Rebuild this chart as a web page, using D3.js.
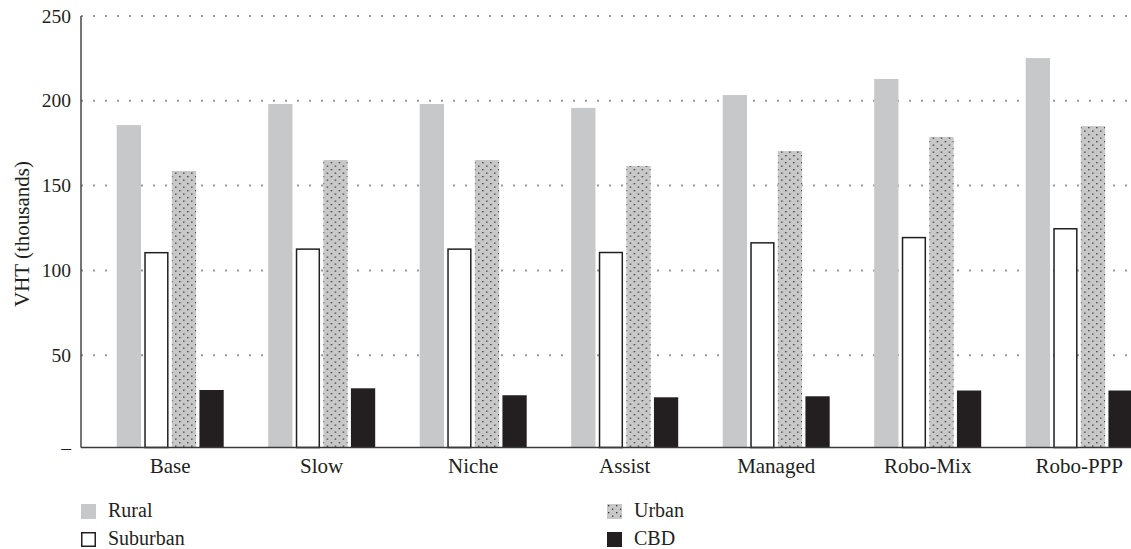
<!DOCTYPE html>
<html>
<head>
<meta charset="utf-8">
<script src="https://cdn.jsdelivr.net/npm/d3@7"></script>
<style>
  body { margin: 0; background: #fff; }
  svg { display: block; font-family: "Liberation Serif", "DejaVu Serif", serif; }
</style>
</head>
<body>
<svg id="chart"></svg>
<script>
const categories = ['Base', 'Slow', 'Niche', 'Assist', 'Managed', 'Robo-Mix', 'Robo-PPP'];
const seriesNames = ['Rural', 'Suburban', 'Urban', 'CBD'];
const rural = [185.7, 198.1, 198.1, 195.8, 203.4, 212.9, 225.2];
const suburban = [110.9, 113.0, 113.0, 111.0, 116.7, 119.8, 125.0];
const urban = [158.6, 165.1, 165.1, 161.6, 170.4, 178.7, 185.1];
const cbd = [29.5, 30.5, 26.4, 25.2, 25.8, 29.2, 29.2];
const yTicks = [250, 200, 150, 100, 50];
const yTickLabels = ['250', '200', '150', '100', '50'];

const width = 1131, height = 549;
const svg = d3.select('#chart').attr('width', width).attr('height', height);

const seriesValues = { Rural: rural, Suburban: suburban, Urban: urban, CBD: cbd };
const rows = categories.map((c, i) => ({
  cat: c,
  values: seriesNames.map(s => ({ key: s, value: seriesValues[s][i] }))
}));

// dotted fill for urban
const defs = svg.append('defs');
const pat = defs.append('pattern')
  .attr('id', 'dots')
  .attr('patternUnits', 'userSpaceOnUse')
  .attr('width', 8).attr('height', 7);
pat.append('rect').attr('width', 8).attr('height', 7).attr('fill', '#c8c8c9');
pat.append('rect').attr('x', 1).attr('y', 1).attr('width', 1.3).attr('height', 1.3).attr('fill', '#2e2e2e');
pat.append('rect').attr('x', 5).attr('y', 4.5).attr('width', 1.3).attr('height', 1.3).attr('fill', '#2e2e2e');

const fills = { Rural: '#c7c8ca', Suburban: '#ffffff', Urban: 'url(#dots)', CBD: '#231f20' };

//SCALES
const axisX = 81;
const y = d3.scaleLinear().domain([-4.4, 250]).range([447.5, 16]);
const x0 = d3.scaleBand().domain(categories).range([94.45, 1154.95]);
const x1 = d3.scaleBand().domain(seriesNames).range([-53.5, 53.5]).paddingInner(0.12);

//GRID
svg.append('g')
  .selectAll('line')
  .data(yTicks)
  .join('line')
  .attr('x1', axisX).attr('x2', width)
  .attr('y1', d => y(d)).attr('y2', d => y(d))
  .attr('stroke', '#9a9a9a')
  .attr('stroke-width', 2)
  .attr('stroke-dasharray', '2 10');

//BARS
const groups = svg.append('g')
  .selectAll('g')
  .data(rows)
  .join('g')
  .attr('transform', d => `translate(${x0(d.cat) + x0.bandwidth() / 2},0)`);

groups.selectAll('rect')
  .data(d => d.values)
  .join('rect')
  .attr('x', d => x1(d.key) + (d.key === 'Suburban' ? 0.75 : 0))
  .attr('width', d => x1.bandwidth() - (d.key === 'Suburban' ? 1.5 : 0))
  .attr('y', d => y(d.value) + (d.key === 'Suburban' ? 0.75 : 0))
  .attr('height', d => y.range()[0] - y(d.value) - (d.key === 'Suburban' ? 0.75 : 0))
  .attr('fill', d => fills[d.key])
  .attr('stroke', d => d.key === 'Suburban' ? '#231f20' : 'none')
  .attr('stroke-width', 1.5);

//AXES
svg.append('line')
  .attr('x1', axisX).attr('x2', axisX)
  .attr('y1', y(250)).attr('y2', y.range()[0])
  .attr('stroke', '#3a3a3a').attr('stroke-width', 1.4);
svg.append('line')
  .attr('x1', axisX).attr('x2', width)
  .attr('y1', y.range()[0]).attr('y2', y.range()[0])
  .attr('stroke', '#3a3a3a').attr('stroke-width', 1.4);

svg.append('g')
  .selectAll('text')
  .data(yTicks)
  .join('text')
  .attr('x', 71)
  .attr('y', d => y(d))
  .attr('dy', '0.34em')
  .attr('text-anchor', 'end')
  .attr('font-size', 19.5)
  .attr('fill', '#231f20')
  .text((d, i) => yTickLabels[i]);

svg.append('text')
  .attr('x', 71)
  .attr('y', y.range()[0])
  .attr('dy', '0.34em')
  .attr('text-anchor', 'end')
  .attr('font-size', 19.5)
  .attr('fill', '#231f20')
  .text('–');

svg.append('g')
  .selectAll('text')
  .data(categories)
  .join('text')
  .attr('x', d => x0(d) + x0.bandwidth() / 2)
  .attr('y', 473)
  .attr('text-anchor', 'middle')
  .attr('font-size', 21)
  .attr('fill', '#231f20')
  .text(d => d);

svg.append('text')
  .attr('transform', 'translate(29,234) rotate(-90)')
  .attr('text-anchor', 'middle')
  .attr('font-size', 21)
  .attr('fill', '#231f20')
  .text('VHT (thousands)');

//LEGEND
const legendPos = [
  { key: 'Rural', x: 81, y: 504 },
  { key: 'Suburban', x: 81, y: 532 },
  { key: 'Urban', x: 607, y: 504 },
  { key: 'CBD', x: 607, y: 532 }
];
const leg = svg.append('g')
  .selectAll('g')
  .data(legendPos)
  .join('g')
  .attr('transform', d => `translate(${d.x},${d.y})`);

leg.append('rect')
  .attr('x', d => d.key === 'Suburban' ? 0.75 : 0)
  .attr('y', d => d.key === 'Suburban' ? 0.75 : 0)
  .attr('width', d => d.key === 'Suburban' ? 13.5 : 15)
  .attr('height', d => d.key === 'Suburban' ? 13.5 : 15)
  .attr('fill', d => fills[d.key])
  .attr('stroke', d => d.key === 'Suburban' ? '#231f20' : 'none')
  .attr('stroke-width', 1.5);

leg.append('text')
  .attr('x', 27)
  .attr('y', 12.5)
  .attr('font-size', 20)
  .attr('fill', '#231f20')
  .text(d => d.key);
</script>
</body>
</html>
